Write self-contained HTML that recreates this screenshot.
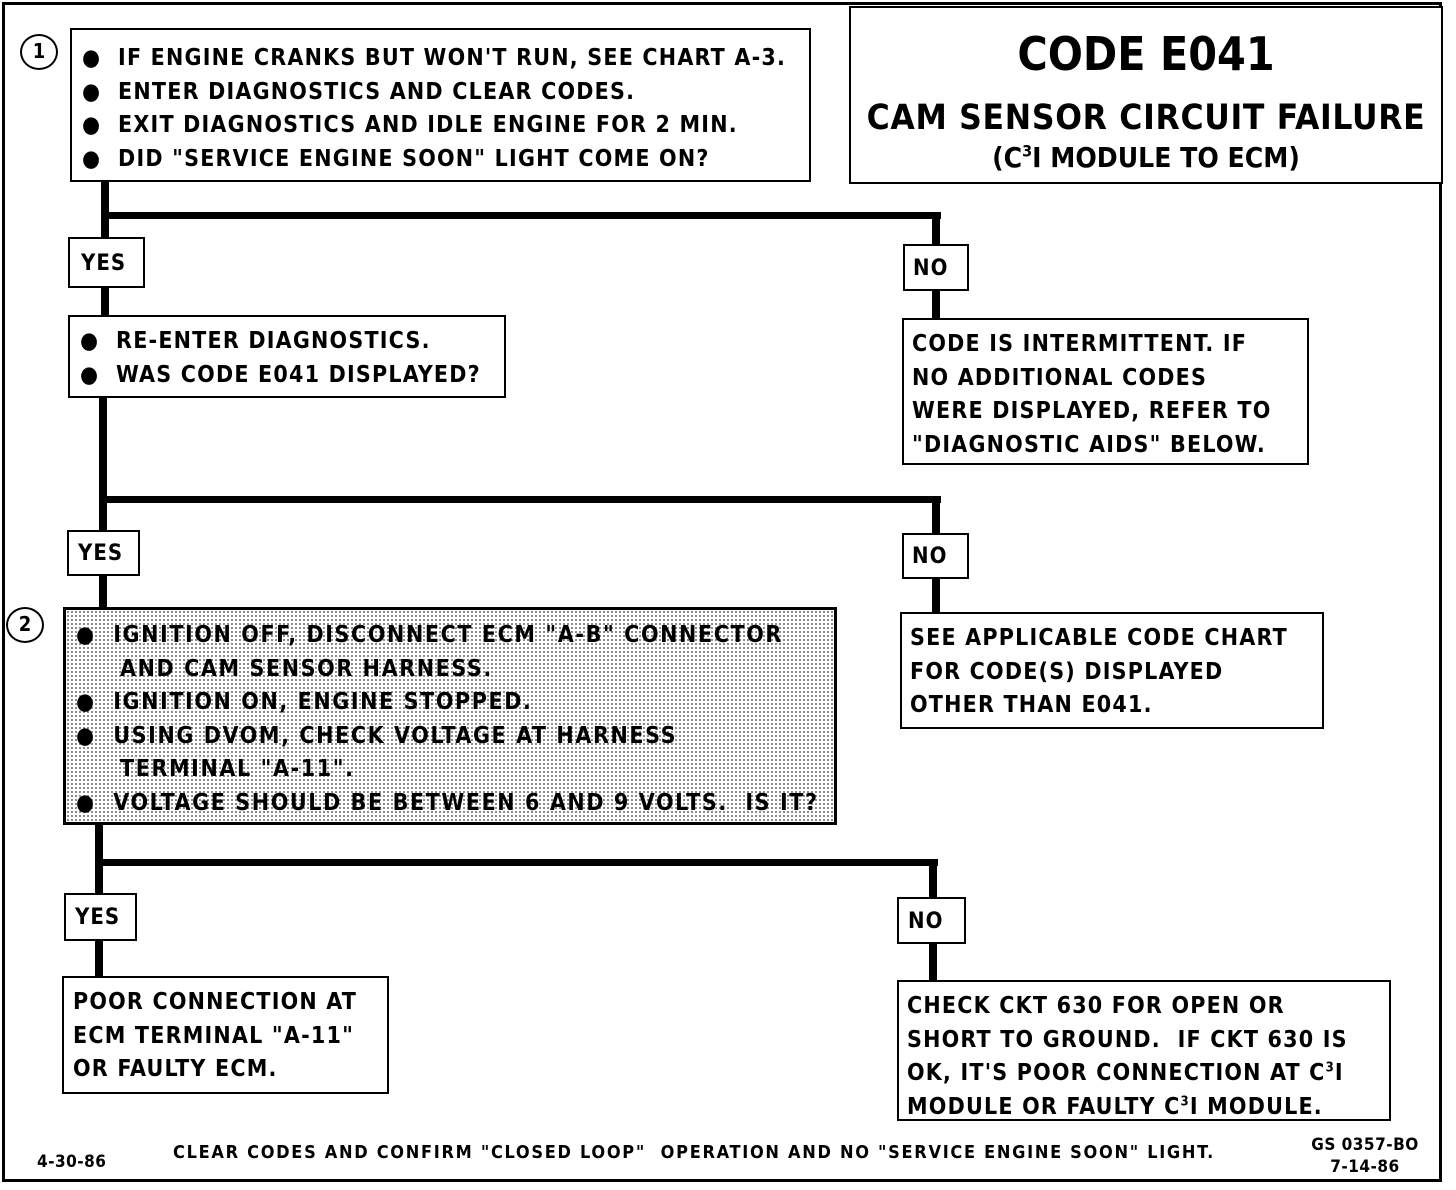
<!DOCTYPE html>
<html><head><style>
body{margin:0;width:1456px;height:1190px;background:#fff;position:relative;overflow:hidden;font-family:"DejaVu Sans Condensed","Liberation Sans",sans-serif;font-weight:bold;color:#000}
.a{position:absolute}
.b{position:absolute;border:2.5px solid #000;box-sizing:border-box;background:#fff}
.t{position:absolute;font-size:23px;line-height:33.5px;white-space:nowrap;letter-spacing:1.2px}
.v{position:absolute;background:#000;width:8px}
.h{position:absolute;background:#000;height:7px}
.lab{position:absolute;font-size:22px;letter-spacing:1px}
.c{position:absolute;border:2.5px solid #000;border-radius:50%;box-sizing:border-box;font-size:20px;text-align:center}
sup{line-height:0;font-size:13px}
.shade{background-color:#fff;background-image:radial-gradient(circle,#666 0.8px,transparent 1px);background-size:4px 4px}
</style></head><body>
<div class="a" style="left:2px;top:2px;width:1440px;height:1180px;border:3px solid #000;box-sizing:border-box"></div>
<div class="b" style="left:849px;top:6px;width:594px;height:178px"></div>
<div class="a" style="left:849px;top:26px;width:594px;text-align:center;font-size:46px;line-height:56px">CODE E041</div>
<div class="a" style="left:849px;top:96px;width:594px;text-align:center;font-size:35px;line-height:44px;letter-spacing:0.7px">CAM SENSOR CIRCUIT FAILURE</div>
<div class="a" style="left:849px;top:140px;width:594px;text-align:center;font-size:28px;line-height:36px">(C<sup style="font-size:16px">3</sup>I MODULE TO ECM)</div>

<div class="c" style="left:20px;top:34px;width:38px;height:36px;line-height:31px">1</div>
<div class="c" style="left:6px;top:607px;width:38px;height:36px;line-height:31px">2</div>

<div class="v" style="left:101px;top:180px;height:140px"></div>
<div class="h" style="left:101px;top:212px;width:840px"></div>
<div class="v" style="left:932px;top:212px;height:110px"></div>
<div class="v" style="left:99px;top:396px;height:215px"></div>
<div class="h" style="left:99px;top:496px;width:842px"></div>
<div class="v" style="left:932px;top:496px;height:120px"></div>
<div class="v" style="left:95px;top:822px;height:158px"></div>
<div class="h" style="left:95px;top:859px;width:843px"></div>
<div class="v" style="left:929px;top:859px;height:125px"></div>

<div class="b" style="left:70px;top:28px;width:741px;height:154px"></div>
<div class="t" style="left:82px;top:42px">●&nbsp; IF ENGINE CRANKS BUT WON'T RUN, SEE CHART A-3.<br>●&nbsp; ENTER DIAGNOSTICS AND CLEAR CODES.<br>●&nbsp; EXIT DIAGNOSTICS AND IDLE ENGINE FOR 2 MIN.<br>●&nbsp; DID "SERVICE ENGINE SOON" LIGHT COME ON?</div>

<div class="b" style="left:68px;top:237px;width:77px;height:51px"></div><div class="lab" style="left:81px;top:251px">YES</div>
<div class="b" style="left:903px;top:244px;width:66px;height:47px"></div><div class="lab" style="left:913px;top:256px">NO</div>

<div class="b" style="left:68px;top:315px;width:438px;height:83px"></div>
<div class="t" style="left:80px;top:325px">●&nbsp; RE-ENTER DIAGNOSTICS.<br>●&nbsp; WAS CODE E041 DISPLAYED?</div>

<div class="b" style="left:902px;top:318px;width:407px;height:147px"></div>
<div class="t" style="left:912px;top:328px">CODE IS INTERMITTENT. IF<br>NO ADDITIONAL CODES<br>WERE DISPLAYED, REFER TO<br>"DIAGNOSTIC AIDS" BELOW.</div>

<div class="b" style="left:67px;top:530px;width:73px;height:46px"></div><div class="lab" style="left:78px;top:541px">YES</div>
<div class="b" style="left:902px;top:533px;width:67px;height:46px"></div><div class="lab" style="left:912px;top:544px">NO</div>

<div class="b shade" style="left:63px;top:607px;width:774px;height:218px;border-width:3px"></div>
<div class="t" style="left:76px;top:619px;letter-spacing:1.6px">●&nbsp; IGNITION OFF, DISCONNECT ECM "A-B" CONNECTOR<br>&nbsp;&nbsp;&nbsp;&nbsp;&nbsp;AND CAM SENSOR HARNESS.<br>●&nbsp; IGNITION ON, ENGINE STOPPED.<br>●&nbsp; USING DVOM, CHECK VOLTAGE AT HARNESS<br>&nbsp;&nbsp;&nbsp;&nbsp;&nbsp;TERMINAL "A-11".<br>●&nbsp; VOLTAGE SHOULD BE BETWEEN 6 AND 9 VOLTS.&nbsp; IS IT?</div>

<div class="b" style="left:900px;top:612px;width:424px;height:117px"></div>
<div class="t" style="left:910px;top:622px">SEE APPLICABLE CODE CHART<br>FOR CODE(S) DISPLAYED<br>OTHER THAN E041.</div>

<div class="b" style="left:64px;top:893px;width:73px;height:48px"></div><div class="lab" style="left:75px;top:905px">YES</div>
<div class="b" style="left:897px;top:897px;width:69px;height:47px"></div><div class="lab" style="left:908px;top:909px">NO</div>

<div class="b" style="left:62px;top:976px;width:327px;height:118px"></div>
<div class="t" style="left:73px;top:986px">POOR CONNECTION AT<br>ECM TERMINAL "A-11"<br>OR FAULTY ECM.</div>

<div class="b" style="left:897px;top:980px;width:494px;height:141px"></div>
<div class="t" style="left:907px;top:990px">CHECK CKT 630 FOR OPEN OR<br>SHORT TO GROUND.&nbsp; IF CKT 630 IS<br>OK, IT'S POOR CONNECTION AT C<sup>3</sup>I<br>MODULE OR FAULTY C<sup>3</sup>I MODULE.</div>

<div class="a" style="left:37px;top:1152px;font-size:17px;letter-spacing:0.5px">4-30-86</div>
<div class="a" style="left:173px;top:1142px;font-size:18px;letter-spacing:1.7px;white-space:nowrap">CLEAR CODES AND CONFIRM "CLOSED LOOP"&nbsp; OPERATION AND NO "SERVICE ENGINE SOON" LIGHT.</div>
<div class="a" style="left:1290px;top:1134px;font-size:17px;line-height:22px;text-align:center;width:150px;letter-spacing:0.5px">GS 0357-BO<br>7-14-86</div>
</body></html>
